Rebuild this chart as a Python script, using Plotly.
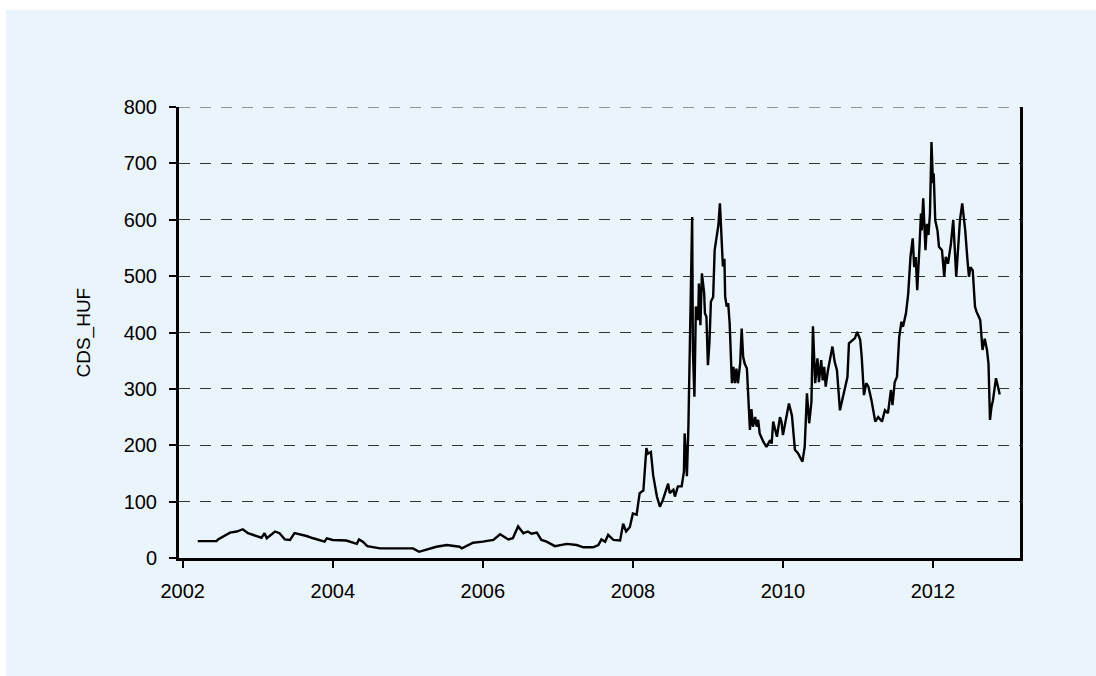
import plotly.graph_objects as go

# decimal-year time axis and CDS spread values
t_years = [
    2002.20, 2002.45, 2002.47, 2002.63, 2002.72, 2002.80, 2002.87, 2002.98, 2003.05, 2003.09,
    2003.12, 2003.23, 2003.29, 2003.36, 2003.43, 2003.49, 2003.56, 2003.65, 2003.74, 2003.83,
    2003.89, 2003.92, 2004.00, 2004.18, 2004.32, 2004.35, 2004.40, 2004.46, 2004.63, 2004.80,
    2005.07, 2005.15, 2005.25, 2005.38, 2005.52, 2005.69, 2005.72, 2005.87, 2006.00, 2006.14,
    2006.23, 2006.34, 2006.40, 2006.47, 2006.54, 2006.60, 2006.65, 2006.72, 2006.78, 2006.85,
    2006.96, 2007.12, 2007.25, 2007.34, 2007.47, 2007.54, 2007.58, 2007.63, 2007.67, 2007.74,
    2007.83, 2007.87, 2007.91, 2007.96, 2008.00, 2008.05, 2008.09, 2008.14, 2008.18, 2008.20,
    2008.24, 2008.27, 2008.32, 2008.36, 2008.40, 2008.47, 2008.49, 2008.54, 2008.56, 2008.60,
    2008.65, 2008.68, 2008.69, 2008.72, 2008.74, 2008.75, 2008.77, 2008.79, 2008.80, 2008.82,
    2008.84, 2008.87, 2008.88, 2008.90, 2008.92, 2008.95, 2008.96, 2008.98, 2009.00, 2009.02,
    2009.04, 2009.07, 2009.09, 2009.12, 2009.14, 2009.16, 2009.18, 2009.20, 2009.22, 2009.23,
    2009.25, 2009.27, 2009.29, 2009.32, 2009.34, 2009.36, 2009.38, 2009.40, 2009.43, 2009.45,
    2009.47, 2009.49, 2009.52, 2009.54, 2009.56, 2009.58, 2009.60, 2009.63, 2009.65, 2009.67,
    2009.69, 2009.74, 2009.78, 2009.83, 2009.85, 2009.87, 2009.92, 2009.96, 2009.98, 2010.00,
    2010.05, 2010.08, 2010.12, 2010.16, 2010.20, 2010.26, 2010.29, 2010.32, 2010.35, 2010.38,
    2010.40, 2010.43, 2010.46, 2010.48, 2010.51, 2010.53, 2010.55, 2010.57, 2010.60, 2010.64,
    2010.66, 2010.69, 2010.72, 2010.76, 2010.80, 2010.83, 2010.86, 2010.88, 2010.93, 2010.96,
    2010.99, 2011.03, 2011.05, 2011.08, 2011.11, 2011.14, 2011.18, 2011.23, 2011.27, 2011.32,
    2011.36, 2011.40, 2011.44, 2011.46, 2011.49, 2011.52, 2011.55, 2011.58, 2011.60, 2011.64,
    2011.67, 2011.69, 2011.70, 2011.73, 2011.75, 2011.77, 2011.79, 2011.82, 2011.84, 2011.85,
    2011.87, 2011.90, 2011.92, 2011.94, 2011.96, 2011.98, 2012.00, 2012.01, 2012.03, 2012.06,
    2012.08, 2012.12, 2012.15, 2012.17, 2012.20, 2012.24, 2012.27, 2012.31, 2012.34, 2012.36,
    2012.39, 2012.43, 2012.46, 2012.48, 2012.50, 2012.53, 2012.56, 2012.58, 2012.63, 2012.66,
    2012.69, 2012.72, 2012.74, 2012.76, 2012.78, 2012.80, 2012.84, 2012.87, 2012.89,
]
cds_huf = [
    30, 30, 33, 45, 47, 51, 44, 39, 36, 44,
    35, 47, 44, 33, 32, 44, 42, 39, 35, 32,
    29, 35, 32, 31, 25, 33, 29, 21, 17, 17,
    17, 11, 15, 20, 23, 20, 17, 27, 29, 32,
    42, 33, 35, 56, 44, 47, 43, 45, 32, 29,
    21, 25, 23, 19, 19, 23, 33, 29, 41, 32,
    31, 61, 47, 55, 79, 77, 115, 120, 195, 185,
    188, 147, 109, 91, 103, 132, 115, 121, 109, 127,
    127, 153, 221, 145, 233, 322, 511, 605, 369, 286,
    446, 422, 487, 413, 505, 470, 434, 428, 342, 381,
    455, 463, 546, 576, 591, 629, 558, 517, 531, 464,
    446, 452, 416, 310, 339, 310, 336, 310, 345, 407,
    357, 345, 336, 280, 227, 264, 233, 250, 233, 245,
    221, 206, 197, 209, 203, 242, 215, 250, 242, 218,
    250, 274, 253, 192, 186, 171, 197, 292, 239, 277,
    411, 310, 354, 312, 351, 315, 339, 304, 333, 357,
    375, 348, 333, 262, 286, 298, 321, 381, 387, 390,
    401, 387, 357, 289, 310, 304, 280, 242, 250, 242,
    262, 257, 298, 271, 312, 321, 392, 419, 410, 434,
    469, 534, 534, 567, 516, 534, 475, 552, 611, 581,
    638, 546, 593, 573, 611, 738, 665, 682, 599, 581,
    552, 546, 499, 534, 522, 558, 600, 499, 570, 600,
    629, 581, 528, 499, 516, 510, 446, 437, 422, 369,
    389, 369, 345, 245, 268, 280, 319, 298, 290,
]

x_ticks = [2002, 2004, 2006, 2008, 2010, 2012]
y_ticks = [0, 100, 200, 300, 400, 500, 600, 700, 800]

BG = "#EAF4FB"
FONT = "Liberation Sans, Arial, sans-serif"
GRID = "#333333"
GRID_DASH = "11px,10px"

W, H = 1096, 676
L, R, T, B = 179, 76, 107, 118
pw, ph = W - L - R, H - T - B

fig = go.Figure()
fig.add_trace(go.Scatter(
    x=t_years, y=cds_huf, mode="lines",
    line=dict(color="#000000", width=2.4),
    showlegend=False, hoverinfo="x+y",
))

fig.update_layout(
    width=W, height=H, autosize=False,
    margin=dict(l=L, r=R, t=T, b=B, pad=0),
    paper_bgcolor=BG, plot_bgcolor=BG,
    font=dict(family=FONT, size=20, color="#000000"),
    xaxis=dict(
        range=[2001.95, 2013.16],
        tickvals=x_ticks, ticktext=[str(v) for v in x_ticks],
        ticks="outside", ticklen=7, tickwidth=2, tickcolor="#000000",
        showline=True, linecolor="#000000", linewidth=3,
        showgrid=False, zeroline=False,
        ticklabelstandoff=6,
        tickfont=dict(size=20),
    ),
    yaxis=dict(
        range=[0, 800],
        tickvals=y_ticks, ticktext=[str(v) for v in y_ticks],
        ticks="outside", ticklen=7, tickwidth=2, tickcolor="#000000",
        showline=True, linecolor="#000000", linewidth=3, mirror=True,
        showgrid=True, gridcolor=GRID, gridwidth=1.2, griddash=GRID_DASH,
        zeroline=False,
        ticklabelstandoff=8,
        tickfont=dict(size=20),
    ),
    annotations=[dict(
        text="CDS_HUF", xref="paper", yref="paper",
        x=(83 - L) / pw, y=0.5, xanchor="center", yanchor="middle",
        textangle=-90, showarrow=False, font=dict(size=19, family=FONT),
    )],
    shapes=[
        dict(type="rect", xref="paper", yref="paper", layer="below",
             x0=-1, x1=(6 - L) / pw, y0=-1, y1=2,
             fillcolor="#FFFFFF", line=dict(width=0)),
        dict(type="rect", xref="paper", yref="paper", layer="below",
             x0=-1, x1=2, y0=(H - B - 10) / ph, y1=2,
             fillcolor="#FFFFFF", line=dict(width=0)),
        # top gridline (at the range edge, which plotly omits)
        dict(type="line", xref="paper", yref="y", layer="below",
             x0=0, x1=1, y0=y_ticks[-1], y1=y_ticks[-1],
             line=dict(color=GRID, width=1.2, dash=GRID_DASH)),
    ],
)

fig.write_html("out.html")
